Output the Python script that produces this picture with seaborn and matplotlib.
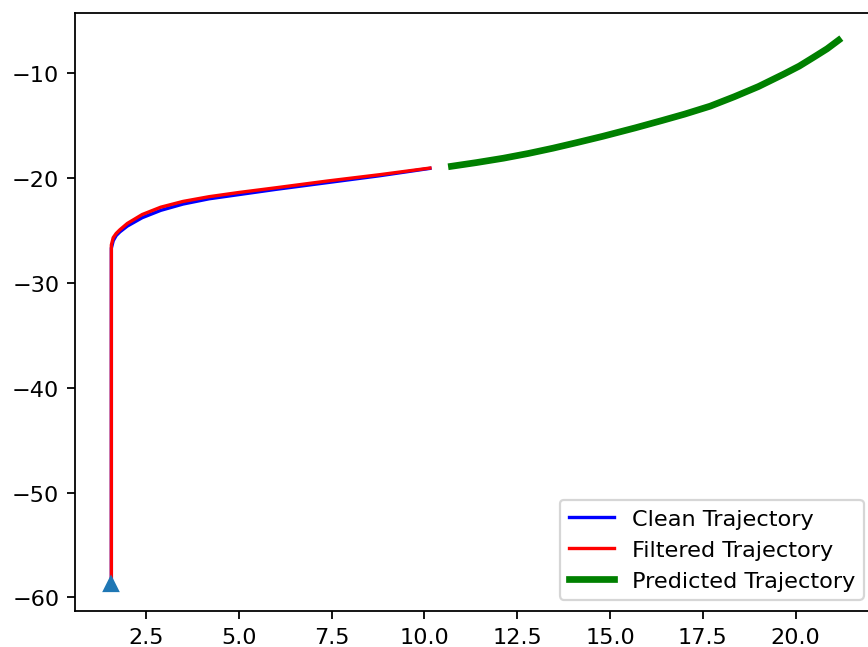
import matplotlib
matplotlib.use("Agg")
import matplotlib.pyplot as plt
import seaborn as sns

clean_x = [1.57, 1.57, 1.62, 1.7, 1.8, 2.0, 2.4, 2.9, 3.5, 4.2, 5.0, 6.0, 7.4, 8.8, 10.15]
clean_y = [-58.7, -26.7, -26.0, -25.5, -25.15, -24.6, -23.8, -23.1, -22.5, -22.0, -21.6, -21.1, -20.45, -19.8, -19.1]
filt_x = [1.57, 1.57, 1.62, 1.7, 1.8, 2.0, 2.4, 2.9, 3.5, 4.2, 5.0, 6.0, 7.4, 8.8, 10.15]
filt_y = [-58.7, -26.4, -25.7, -25.3, -24.95, -24.35, -23.5, -22.8, -22.25, -21.8, -21.4, -20.95, -20.3, -19.7, -19.07]
pred_x = [10.73, 11.4, 12.13, 12.8, 13.46, 14.1, 14.8, 15.68, 16.4, 17.01, 17.7, 18.35, 19.0, 19.69, 20.1, 20.49, 20.85, 21.16]
pred_y = [-18.9, -18.55, -18.13, -17.68, -17.18, -16.65, -16.05, -15.24, -14.54, -13.93, -13.17, -12.27, -11.3, -10.1, -9.35, -8.5, -7.7, -6.88]
start_x = [1.57]
start_y = [-58.7]

dpi = 161
fig = plt.figure(figsize=(868 / dpi, 648 / dpi), dpi=dpi)
ax = fig.add_axes([75 / 868, 36 / 648, 800 / 868, 598 / 648])

sns.lineplot(x=clean_x, y=clean_y, sort=False, estimator=None, color="blue", lw=1.5,
             label="Clean Trajectory", ax=ax)
sns.lineplot(x=filt_x, y=filt_y, sort=False, estimator=None, color="red", lw=1.5,
             label="Filtered Trajectory", ax=ax)
sns.lineplot(x=pred_x, y=pred_y, sort=False, estimator=None, color="green", lw=3,
             label="Predicted Trajectory", ax=ax)
ax.plot(start_x, start_y, marker="^", color="#1f77b4", markersize=6, linestyle="none")

ax.set_yticks([-60, -50, -40, -30, -20, -10])
ax.set_xticks([2.5, 5.0, 7.5, 10.0, 12.5, 15.0, 17.5, 20.0])
ax.legend(loc="lower right")

fig.savefig("out.png", dpi=dpi)
